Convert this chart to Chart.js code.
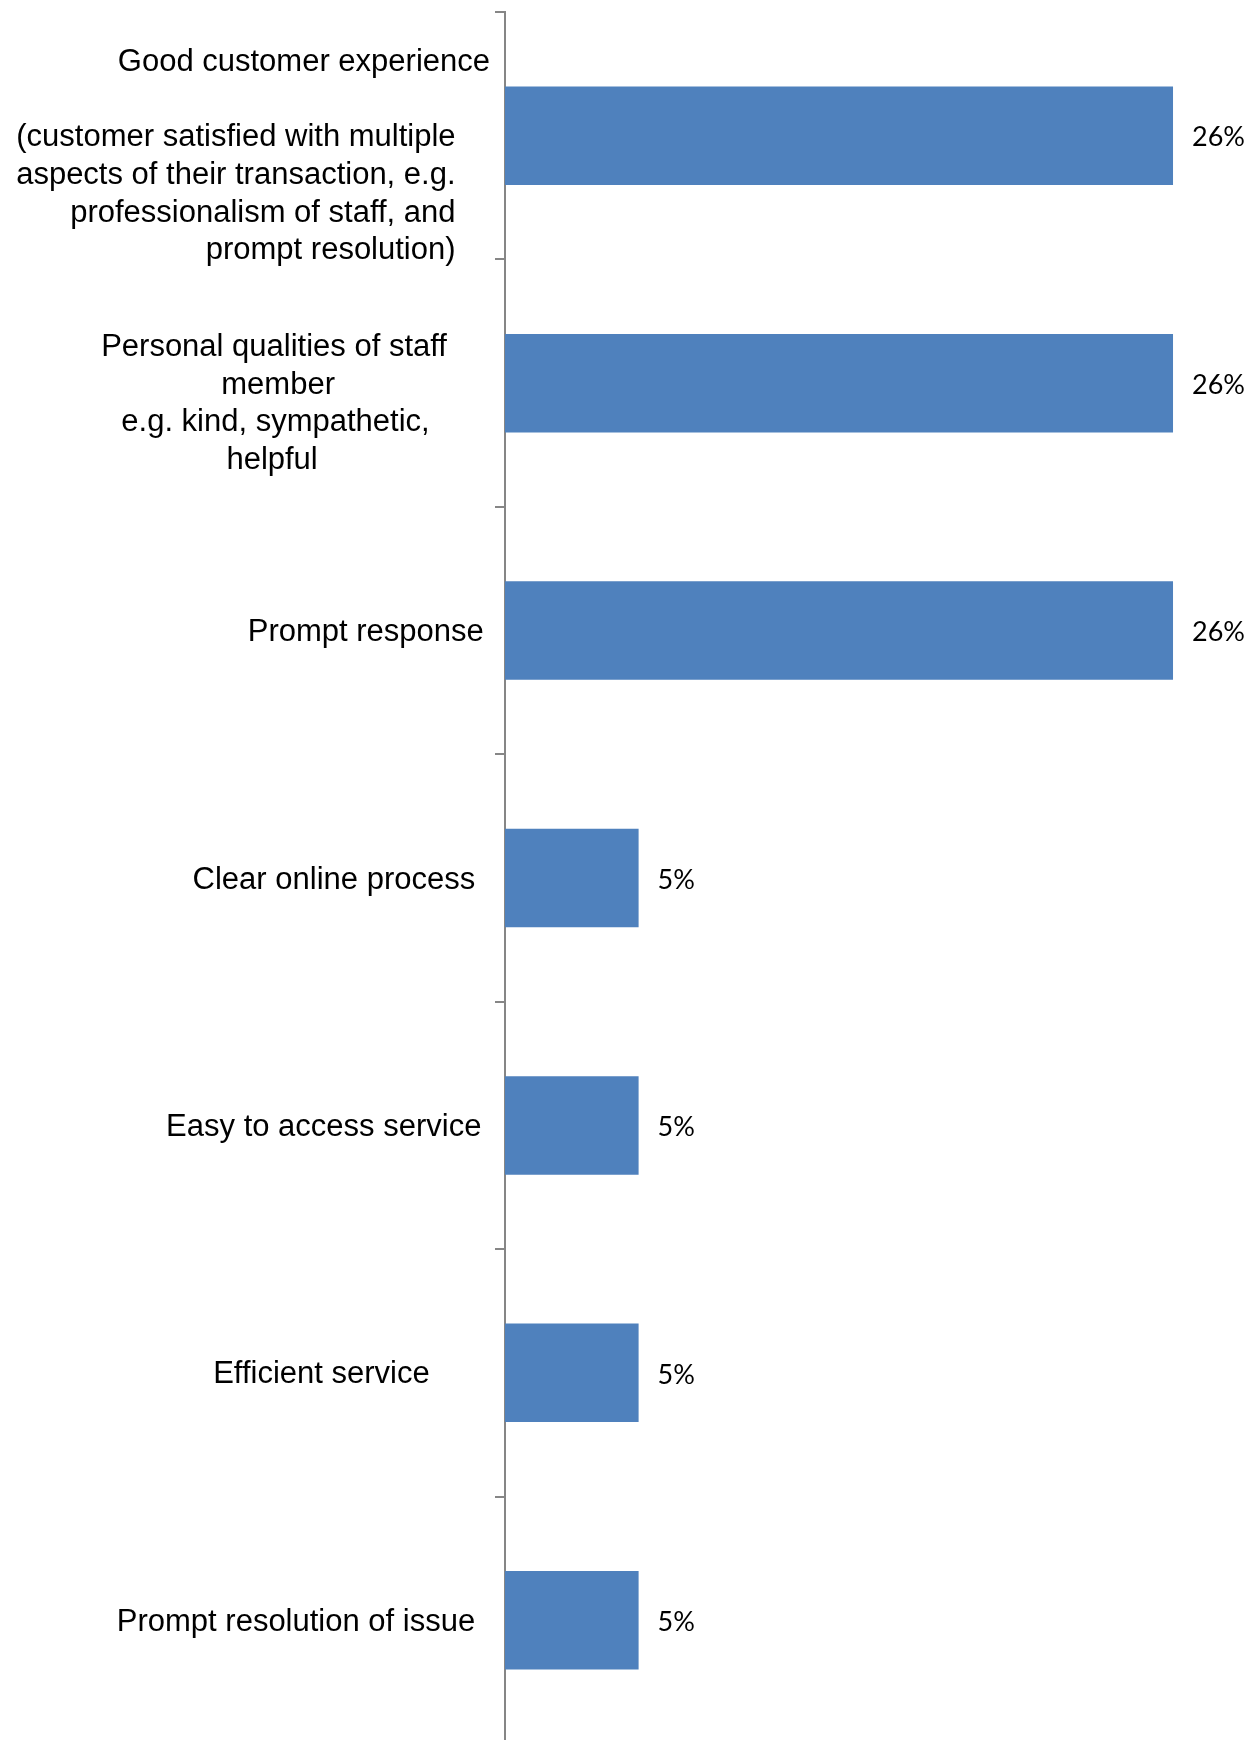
<!DOCTYPE html>
<html>
<head>
<meta charset="utf-8">
<script src="https://cdn.jsdelivr.net/npm/chart.js@4/dist/chart.umd.min.js"></script>
<style>
  html, body { margin: 0; padding: 0; background: #ffffff; overflow: hidden; }
  #wrap { width: 1267px; height: 1744px; }
</style>
</head>
<body>
<div id="wrap"><canvas id="c" width="1267" height="1744"></canvas></div>
<script>
// Category labels (lines of each wrapped label)
const categories = [
  ["", "Good customer experience", "", "(customer satisfied with multiple    ", "aspects of their transaction, e.g.    ", "professionalism of staff, and    ", "prompt resolution)    "],
  ["", "Personal qualities of staff     ", "member                  ", "e.g. kind, sympathetic,       ", "helpful                    "],
  ["Prompt response\u2009"],
  ["Clear online process \u2009"],
  ["Easy to access service "],
  ["Efficient service       "],
  ["Prompt resolution of issue \u2009"]
];
// Share of mentions (%)
const shareValues = [26.3, 26.3, 26.3, 5.26, 5.26, 5.26, 5.26];
const axisMax = 30;

const valueLabels = {
  id: 'valueLabels',
  afterDatasetsDraw(chart) {
    const ctx = chart.ctx;
    const meta = chart.getDatasetMeta(0);
    const data = chart.data.datasets[0].data;
    ctx.save();
    ctx.font = '27px Lato';
    ctx.fillStyle = '#000000';
    ctx.textAlign = 'left';
    ctx.textBaseline = 'middle';
    meta.data.forEach((bar, i) => {
      ctx.fillText(Math.round(data[i]) + '%', bar.x + 19, bar.y + 2);
    });
    ctx.restore();
  }
};

new Chart(document.getElementById('c'), {
  type: 'bar',
  data: {
    labels: categories,
    datasets: [{
      data: shareValues,
      backgroundColor: '#4F81BD',
      borderWidth: 0,
      barPercentage: 0.398,
      categoryPercentage: 1.0
    }]
  },
  options: {
    indexAxis: 'y',
    responsive: false,
    animation: false,
    layout: { padding: { top: 12, bottom: 0, left: 0, right: 0 } },
    plugins: { legend: { display: false }, tooltip: { enabled: false } },
    scales: {
      x: {
        display: false,
        min: 0,
        max: axisMax
      },
      y: {
        position: 'left',
        offset: true,
        border: { display: true, color: '#868686', width: 2 },
        grid: {
          display: true,
          offset: true,
          drawOnChartArea: false,
          drawTicks: true,
          tickLength: 10,
          color: '#868686',
          lineWidth: 2
        },
        ticks: {
          autoSkip: false,
          padding: 5,
          labelOffset: 2,
          color: '#000000',
          crossAlign: 'near',
          font: { family: "'Liberation Sans', Arial, sans-serif", size: 31, lineHeight: 1.215 }
        },
        afterFit(scale) {
          scale.width = 505;
          scale.paddingTop = 0;
          scale.paddingBottom = 0;
        }
      }
    }
  },
  plugins: [valueLabels]
});
</script>
</body>
</html>
